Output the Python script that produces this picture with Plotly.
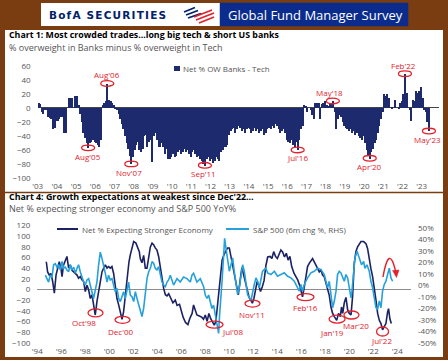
import plotly.graph_objects as go

# ---------------- data: Chart 1 (monthly, Jan 2003 - May 2023) ----------------
c1_start_year = 2003
banks_minus_tech = [
    8, 6, -5, -8, -3, -2, -12, -14, -15, -30, -28, -18,          # 2003
    -18, -15, -12, -12, -36, -35, 0, 14, 15, 15, 0, 18,          # 2004
    18, 5, -8, -20, -35, -42, -50, -57, -50, -48, -45, -48,      # 2005
    -50, -52, -55, -45, 5, 8, 10, 35, 12, 10, 8, 5,              # 2006
    2, -3, -8, -15, -22, -30, -40, -50, -58, -68, -80, -70,      # 2007
    -60, -52, -48, -60, -62, -58, -40, -38, -55, -48, -45, -77,  # 2008
    -40, -35, -45, -55, -55, -50, -55, -65, -58, -73, -72, -70,  # 2009
    -65, -70, -68, -62, -60, -65, -63, -58, -62, -60, -65, -70,  # 2010
    -62, -60, -65, -70, -68, -72, -75, -80, -82, -72, -70, -75,  # 2011
    -72, -78, -75, -70, -72, -76, -62, -60, -55, -56, -52, -38,  # 2012
    -32, -30, -28, -35, -30, -25, -28, -32, -30, -35, -30, -28,  # 2013
    -30, -35, -32, -28, -33, -30, -35, -32, -30, -38, -35, -30,  # 2014
    -28, -30, -25, -28, -22, -26, -30, -35, -32, -30, -36, -45,  # 2015
    -48, -50, -45, -52, -55, -48, -60, -45, -30, -25, 5, 3,      # 2016
    -5, 0, -3, -10, -15, 8, 7, 8, -15, 6, 8, 10,                 # 2017
    5, 3, 6, 8, 10, -5, -30, -15, -10, -12, -20, -25,            # 2018
    -28, -30, -32, -30, -35, -33, -38, -35, -40, -42, -45, -40,  # 2019
    -50, -60, -68, -72, -62, -58, -50, -45, -35, -25, -15, -5,   # 2020
    20, 18, 20, 15, 0, 2, 0, 12, 0, 2, 8, 10,                    # 2021
    20, 49, 22, 0, -2, -18, 12, 10, 25, 22, 25, 30,              # 2022
    15, -2, -5, -20, -33,                                        # 2023
]
c1_tick_years = list(range(2003, 2024))
c1_tick_labels = ["'03", "'04", "'05", "'06", "'07", "'08", "'09", "'10", "'11", "'12",
                  "'13", "'14", "'15", "'16", "'17", "'18", "'19", "'20", "'21", "'22", "'23"]
c1_y_ticks = [-100, -80, -60, -40, -20, 0, 20, 40, 60]
c1_callout_labels = ["Aug'05", "Aug'06", "Nov'07", "Sep'11", "Jul'16", "May'18", "Apr'20", "Feb'22", "May'23"]
c1_callout_year = [2005, 2006, 2007, 2011, 2016, 2018, 2020, 2022, 2023]
c1_callout_month = [8, 8, 11, 9, 7, 5, 4, 2, 5]

# ---------------- data: Chart 4 ----------------
growth_x = [
    1994.75, 1994.86, 1995.00, 1995.14, 1995.28, 1995.42, 1995.56, 1995.69, 1995.83, 1995.97,
    1996.06, 1996.19, 1996.33, 1996.47, 1996.61, 1996.75, 1996.89, 1997.03, 1997.17, 1997.31,
    1997.44, 1997.58, 1997.72, 1997.86, 1998.00, 1998.14, 1998.28, 1998.42, 1998.56, 1998.69,
    1998.83, 1998.97, 1999.11, 1999.25, 1999.39, 1999.53, 1999.67, 1999.81, 1999.94, 2000.08,
    2000.22, 2000.36, 2000.50, 2000.64, 2000.78, 2000.92, 2001.06, 2001.19, 2001.33, 2001.42,
    2001.53, 2001.64, 2001.75, 2001.89, 2002.03, 2002.22, 2002.36, 2002.50, 2002.58, 2002.72,
    2002.86, 2003.00, 2003.14, 2003.28, 2003.42, 2003.56, 2003.69, 2003.83, 2003.97, 2004.11,
    2004.25, 2004.39, 2004.53, 2004.67, 2004.81, 2004.95, 2005.10, 2005.30, 2005.50, 2005.65,
    2005.85, 2006.00, 2006.15, 2006.35, 2006.55, 2006.70, 2006.90, 2007.02, 2007.15, 2007.30,
    2007.50, 2007.70, 2007.85, 2008.00, 2008.15, 2008.30, 2008.45, 2008.60, 2008.75, 2008.88,
    2009.00, 2009.12, 2009.25, 2009.40, 2009.55, 2009.70, 2009.85, 2010.00, 2010.15, 2010.30,
    2010.45, 2010.60, 2010.75, 2010.90, 2011.05, 2011.20, 2011.35, 2011.50, 2011.65, 2011.80,
    2011.92, 2012.05, 2012.18, 2012.32, 2012.45, 2012.60, 2012.75, 2012.90, 2013.05, 2013.20,
    2013.40, 2013.55, 2013.70, 2013.85, 2014.00, 2014.15, 2014.30, 2014.45, 2014.60, 2014.75,
    2014.90, 2015.05, 2015.20, 2015.40, 2015.55, 2015.70, 2015.90, 2016.10, 2016.25, 2016.40,
    2016.52, 2016.66, 2016.80, 2016.94, 2017.08, 2017.22, 2017.36, 2017.50, 2017.64, 2017.77,
    2017.91, 2018.05, 2018.19, 2018.33, 2018.47, 2018.61, 2018.75, 2018.95, 2019.10, 2019.25,
    2019.35, 2019.45, 2019.58, 2019.72, 2019.86, 2020.00, 2020.14, 2020.27, 2020.41, 2020.55,
    2020.69, 2020.83, 2020.97, 2021.19, 2021.39, 2021.52, 2021.66, 2021.80, 2021.94, 2022.08,
    2022.22, 2022.36, 2022.50, 2022.64, 2022.77, 2022.91, 2023.05, 2023.19, 2023.27, 2023.38,
    2023.50,
]
growth_net = [
    52, 33, 27, 30, 15, -7, 27, 40, 52, 40,
    24, 46, 55, 62, 40, 46, 36, 33, 30, 27,
    21, 24, 18, 15, -4, 8, -1, -17, -10, -29,
    -48, -23, -4, 15, 33, 40, 46, 40, 43, 40,
    43, 30, 8, -17, -29, -42, -56, -42, -10, 15,
    33, 52, 65, 80, 90, 87, 80, 71, 58, 50,
    64, 40, 40, 58, 80, 87, 84, 78, 74, 62,
    40, 20, 2, -10, -12, -8, -15, -25, -20, -30,
    -28, -42, -52, -62, -66, -55, -45, -29, -40, -48,
    -50, -52, -56, -48, -60, -45, -55, -62, -67, -60,
    -30, -5, 25, 55, 65, 72, 78, 78, 60, 45,
    27, 10, -10, 17, 41, 27, 12, -5, -15, -20,
    -26, -17, -2, 15, 8, -4, 5, 17, 45, 61,
    62, 58, 71, 62, 58, 68, 74, 70, 61, 68,
    55, 62, 43, 30, 24, 18, 5, -14, 5, 30,
    43, 49, 55, 58, 52, 46, 39, 33, 36, 27,
    24, 11, -1, -11, -33, -45, -51, -58, -45, -51,
    -33, -45, -25, -15, -38, -45, -48, -14, 49, 71,
    80, 86, 90, 90, 86, 77, 55, 39, 24, 5,
    -20, -45, -58, -64, -76, -70, -64, -42, -36, -55,
    -64,
]
spx_x = [
    1994.67, 1994.81, 1994.94, 1995.08, 1995.22, 1995.36, 1995.50, 1995.64, 1995.78, 1995.92,
    1996.06, 1996.19, 1996.33, 1996.47, 1996.61, 1996.75, 1996.89, 1997.03, 1997.17, 1997.31,
    1997.44, 1997.58, 1997.72, 1997.86, 1998.00, 1998.14, 1998.28, 1998.42, 1998.56, 1998.69,
    1998.83, 1998.97, 1999.11, 1999.25, 1999.39, 1999.53, 1999.67, 1999.81, 1999.94, 2000.08,
    2000.22, 2000.36, 2000.50, 2000.64, 2000.78, 2000.92, 2001.06, 2001.19, 2001.33, 2001.47,
    2001.61, 2001.75, 2001.89, 2002.03, 2002.17, 2002.31, 2002.44, 2002.58, 2002.72, 2002.86,
    2003.00, 2003.14, 2003.28, 2003.42, 2003.56, 2003.69, 2003.83, 2003.97, 2004.11, 2004.25,
    2004.39, 2004.53, 2004.67, 2004.81, 2004.94, 2005.08, 2005.36, 2005.64, 2005.91, 2006.19,
    2006.47, 2006.75, 2006.89, 2007.02, 2007.30, 2007.58, 2007.86, 2008.00, 2008.14, 2008.28,
    2008.41, 2008.55, 2008.69, 2008.83, 2008.97, 2009.11, 2009.19, 2009.25, 2009.39, 2009.53,
    2009.61, 2009.72, 2009.86, 2010.00, 2010.14, 2010.28, 2010.41, 2010.55, 2010.69, 2010.83,
    2010.97, 2011.11, 2011.25, 2011.39, 2011.52, 2011.80, 2011.94, 2012.08, 2012.22, 2012.36,
    2012.50, 2012.64, 2012.77, 2013.05, 2013.19, 2013.47, 2013.75, 2014.02, 2014.30, 2014.58,
    2014.86, 2015.14, 2015.41, 2015.69, 2015.83, 2015.97, 2016.11, 2016.25, 2016.52, 2016.80,
    2017.08, 2017.36, 2017.64, 2017.91, 2018.05, 2018.19, 2018.33, 2018.47, 2018.61, 2018.75,
    2018.89, 2019.02, 2019.16, 2019.30, 2019.44, 2019.58, 2019.72, 2019.86, 2020.00, 2020.14,
    2020.22, 2020.36, 2020.47, 2020.64, 2020.75, 2020.91, 2021.02, 2021.19, 2021.30, 2021.47,
    2021.66, 2021.80, 2021.94, 2022.08, 2022.22, 2022.36, 2022.50, 2022.64, 2022.77, 2022.91,
    2023.05, 2023.19, 2023.33, 2023.47, 2023.61,
]
spx_6m_chg = [
    9, 5, 3, 9, 7, 18, 19, 16, 18, 13.5,
    21, 15, 16, 13.5, 12, 18, 13.5, 16, 10.6, 15,
    18, 12, 7.4, 3, 0.4, 4.8, 6, 0.4, -5.4, -11.3,
    -4, 3, 18, 29, 23.6, 18, 10.6, 3, 9, 4.8,
    6, 0.4, -5.4, -2.5, -11.3, -14, -8.3, -5.4, -11.3, -2.5,
    3, -8.3, -9.8, -14, -5.4, -11.3, -17, -22.8, -27, -20,
    -5.4, 6, 12, 15, 20.7, 19.3, 15, 13.5, 16.4, 10.6,
    3, 0.4, -1, 3, 4.8, 9, 0.4, 6, 3, 7.4,
    6, 3, 9, 10.6, 3, 6, -1, -8.3, -11.3, -8.3,
    -14, -20, -17, -25.7, -34.3, -41.6, -25.7, -14, 3, 26.5,
    41, 32.6, 21, 12.4, 18, 24, 12.4, 3.7, -7.8, -2,
    9.5, 18, 12.4, 3.7, -7.8, -13.5, -4.9, 0.9, 6.6, 3.7,
    -2, 6.6, 12.4, 15, 11, 9.5, 12.4, 8, 9.5, 11,
    8, 6.6, 3.7, -2, -4.9, 0.9, -4.9, 0.9, 6.6, 11,
    12.4, 15, 13.8, 9.5, 3.7, -2, 3.7, -7.8, -19.3, -13.5,
    -4.9, 9.5, 12.4, 11, 6.6, 3.7, 9.5, 6.6, -2, -10.7,
    -4.9, 12.4, 24, 29.7, 26.8, 21, 18, 21, 15, 18,
    12.4, 3.7, -2, -10.7, -19.3, -20.7, -13.5, -19.3, -4.9, 0.9,
    3.7, 9.5, 15, 6.6, 3.7,
]
c2_tick_years = list(range(1994, 2025, 2))
c2_tick_labels = ["'94", "'96", "'98", "'00", "'02", "'04", "'06", "'08", "'10", "'12",
                  "'14", "'16", "'18", "'20", "'22", "'24"]
c2_left_ticks = [-100, -80, -60, -40, -20, 0, 20, 40, 60, 80, 100, 120]
c2_right_ticks = [-50, -40, -30, -20, -10, 0, 10, 20, 30, 40, 50]
c2_right_labels = ["-50%", "-40%", "-30%", "-20%", "-10%", "0%", "10%", "20%", "30%", "40%", "50%"]
c2_callout_labels = ["Oct'98", "Dec'00", "Jul'08", "Nov'11", "Feb'16", "Jan'19", "Mar'20", "Jul'22"]
c2_callout_x = [1998.85, 2001.10, 2008.77, 2011.93, 2016.35, 2018.98, 2020.18, 2022.77]
c2_callout_y = [-44, -57, -66, -26.5, -14.3, -55.6, -48, -79]

# ---------------- styling ----------------
W, H = 448, 360
FONT = "Open Sans, Noto Sans, sans-serif"
BROWN = "#7A3D12"
NAVY = "#1E2A6E"
DARK = "#1B2263"
LIGHT = "#26A1DB"
RED = "#E3212D"
GREY = "#555555"
HEADER_BLUE = "#0B2C8C"


def px(x):
    return x / W


def py(y):
    return 1 - y / H


fig = go.Figure()

# Chart 1 bars
bar_x = [c1_start_year + (i + 0.5) / 12 for i in range(len(banks_minus_tech))]
fig.add_trace(go.Bar(x=bar_x, y=banks_minus_tech, width=1 / 12, marker=dict(color=NAVY, line=dict(width=0)),
                     name="Net % OW Banks - Tech", xaxis="x", yaxis="y", showlegend=False))

# Chart 4 lines
fig.add_trace(go.Scatter(x=growth_x, y=growth_net, mode="lines", line=dict(color=DARK, width=1.6),
                         name="Net % Expecting Stronger Economy", xaxis="x2", yaxis="y2", showlegend=False))
fig.add_trace(go.Scatter(x=spx_x, y=spx_6m_chg, mode="lines", line=dict(color=LIGHT, width=1.6),
                         name="S&P 500 (6m chg %, RHS)", xaxis="x2", yaxis="y3", showlegend=False))

tickfont = dict(family=FONT, size=8, color=GREY)

shapes = []
# background panels
shapes.append(dict(type="rect", xref="paper", yref="paper", x0=px(5), x1=px(443), y0=py(357), y1=py(30),
                   fillcolor="white", line=dict(width=0), layer="below"))
shapes.append(dict(type="line", xref="paper", yref="paper", x0=px(5), x1=px(443), y0=py(192.5), y1=py(192.5),
                   line=dict(color=BROWN, width=1.5), layer="below"))
# header boxes
shapes.append(dict(type="rect", xref="paper", yref="paper", x0=px(41), x1=px(220), y0=py(26), y1=py(3),
                   fillcolor="white", line=dict(width=0), layer="above"))
shapes.append(dict(type="rect", xref="paper", yref="paper", x0=px(220), x1=px(408), y0=py(26), y1=py(3),
                   fillcolor=HEADER_BLUE, line=dict(color=HEADER_BLUE, width=0.5), layer="above"))
# logo stripes
for (x0, y0, x1, y1) in [(184, 12, 195, 7.5), (186, 15, 198, 10.5), (188, 18, 201, 13.5)]:
    shapes.append(dict(type="line", xref="paper", yref="paper", x0=px(x0), y0=py(y0), x1=px(x1), y1=py(y1),
                       line=dict(color="#012169", width=1.8), layer="above"))
for (x0, y0, x1, y1) in [(194, 17, 212, 10), (196, 20, 214, 13), (199, 23, 214, 17)]:
    shapes.append(dict(type="line", xref="paper", yref="paper", x0=px(x0), y0=py(y0), x1=px(x1), y1=py(y1),
                       line=dict(color=RED, width=1.8), layer="above"))

# legends (manual)
shapes.append(dict(type="rect", xref="paper", yref="paper", x0=px(174), x1=px(180), y0=py(71), y1=py(66),
                   fillcolor=NAVY, line=dict(width=0)))
shapes.append(dict(type="line", xref="paper", yref="paper", x0=px(57), x1=px(78), y0=py(229), y1=py(229),
                   line=dict(color=DARK, width=2)))
shapes.append(dict(type="line", xref="paper", yref="paper", x0=px(226), x1=px(249), y0=py(229), y1=py(229),
                   line=dict(color=LIGHT, width=2)))

annotations = []


def text(x, y, s, size, color, bold=False, anchor="left", family=FONT):
    annotations.append(dict(x=px(x), y=py(y), xref="paper", yref="paper", text=f"<b>{s}</b>" if bold else s,
                            showarrow=False, xanchor=anchor, yanchor="middle",
                            font=dict(family=family, size=size, color=color)))


text(47, 15.5, '<span style="letter-spacing:1.2px">BofA SECURITIES</span>', 10.5, "#012169", bold=True,
     family="DejaVu Sans, sans-serif")
text(226, 15, "Global Fund Manager Survey", 13, "white")
text(7, 35.5, "Chart 1: Most crowded trades…long big tech &amp; short US banks", 8.8, "black", bold=True)
text(7, 47.5, "% overweight in Banks minus % overweight in Tech", 9, GREY)
text(181, 68.5, "Net % OW Banks - Tech", 8, GREY)
text(7, 196.5, "Chart 4: Growth expectations at weakest since Dec'22…", 8.9, "black", bold=True)
text(7, 208.5, "Net % expecting stronger economy and S&amp;P 500 YoY%", 9, GREY)
text(80, 229, "Net % Expecting Stronger Economy", 8, GREY)
text(251, 229, "S&amp;P 500 (6m chg %, RHS)", 8, GREY)

# chart 1 callouts
c1_offsets = [(0, -8.5), (0, 8.5), (-2, -8.5), (-1, -8), (0, -8), (-3, 8.5), (0, -8.5), (-1, 8.5), (-1, -8.5)]
for lab, yr, mo, (dx, dy) in zip(c1_callout_labels, c1_callout_year, c1_callout_month, c1_offsets):
    xc = yr + (mo - 0.5) / 12
    yc = banks_minus_tech[(yr - c1_start_year) * 12 + mo - 1]
    shapes.append(dict(type="circle", xref="x", yref="y", xsizemode="pixel", ysizemode="pixel",
                       xanchor=xc, yanchor=yc, x0=-6.5, x1=6.5, y0=-2.8, y1=2.8,
                       line=dict(color=RED, width=1.3)))
    annotations.append(dict(x=xc, y=yc, xref="x", yref="y", text=lab, showarrow=False,
                            xshift=dx, yshift=dy, font=dict(family=FONT, size=8, color=RED)))

# chart 4 callouts
c2_offsets = [(-12, -10), (-2, -11.5), (18, -7), (0, -10.5), (0, -10), (-5, -13), (5, -10), (-1, -9)]
c2_sizes = [(7.5, 4), (7.5, 3.5), (8.5, 3.5), (7.5, 3.5), (8.5, 3.5), (8, 4), (7.5, 4), (6, 4.5)]
for lab, xc, yc, (dx, dy), (hw, hh) in zip(c2_callout_labels, c2_callout_x, c2_callout_y, c2_offsets, c2_sizes):
    shapes.append(dict(type="circle", xref="x2", yref="y2", xsizemode="pixel", ysizemode="pixel",
                       xanchor=xc, yanchor=yc, x0=-hw, x1=hw, y0=-hh, y1=hh,
                       line=dict(color=RED, width=1.3)))
    annotations.append(dict(x=xc, y=yc, xref="x2", yref="y2", text=lab, showarrow=False,
                            xshift=dx, yshift=dy, font=dict(family=FONT, size=8, color=RED)))

# red curved arrow
shapes.append(dict(type="path", xref="paper", yref="paper",
                   path=f"M {px(383)},{py(277)} Q {px(389)},{py(243)} {px(395.5)},{py(271)}",
                   line=dict(color=RED, width=1.4)))
shapes.append(dict(type="path", xref="paper", yref="paper",
                   path=f"M {px(392.5)},{py(270.5)} L {px(399)},{py(270)} L {px(396.5)},{py(277.5)} Z",
                   fillcolor=RED, line=dict(color=RED, width=0.5)))

common = dict(showgrid=False, showline=False, ticks="", automargin=False, tickfont=tickfont)
fig.update_layout(
    width=W, height=H, margin=dict(l=0, r=0, t=0, b=0, pad=0, autoexpand=False),
    paper_bgcolor=BROWN, plot_bgcolor="rgba(0,0,0,0)",
    font=dict(family=FONT), showlegend=False, bargap=0,
    shapes=shapes, annotations=annotations,
    xaxis=dict(domain=[px(37.7), px(439)], range=[2003.0, 2023.9], anchor="y",
               tickvals=c1_tick_years, ticktext=c1_tick_labels, zeroline=False,
               ticklabelstandoff=0, **common),
    yaxis=dict(domain=[py(180), py(59.7)], range=[-103, 69], anchor="x",
               tickvals=c1_y_ticks, zeroline=True, zerolinecolor="#444444", zerolinewidth=1,
               ticklabelstandoff=6, **common),
    xaxis2=dict(domain=[px(37.3), px(411)], range=[1994, 2025.14], anchor="y2",
                tickvals=c2_tick_years, ticktext=c2_tick_labels, zeroline=False,
                ticklabelstandoff=0, **common),
    yaxis2=dict(domain=[py(344.5), py(222)], range=[-103.4, 126.7], anchor="x2",
                tickvals=c2_left_ticks, zeroline=True, zerolinecolor="#8c8c8c", zerolinewidth=1,
                ticklabelstandoff=6, **common),
    yaxis3=dict(overlaying="y2", side="right", anchor="x2", range=[-51.3, 55.2],
                tickvals=c2_right_ticks, ticktext=c2_right_labels, zeroline=False,
                ticklabelstandoff=6, **common),
)

fig.write_html("out.html", config={"displayModeBar": False},
               post_script="document.body.style.margin='0';document.body.style.padding='0';"
                           "document.documentElement.style.margin='0';document.body.style.background='" + BROWN + "';")
